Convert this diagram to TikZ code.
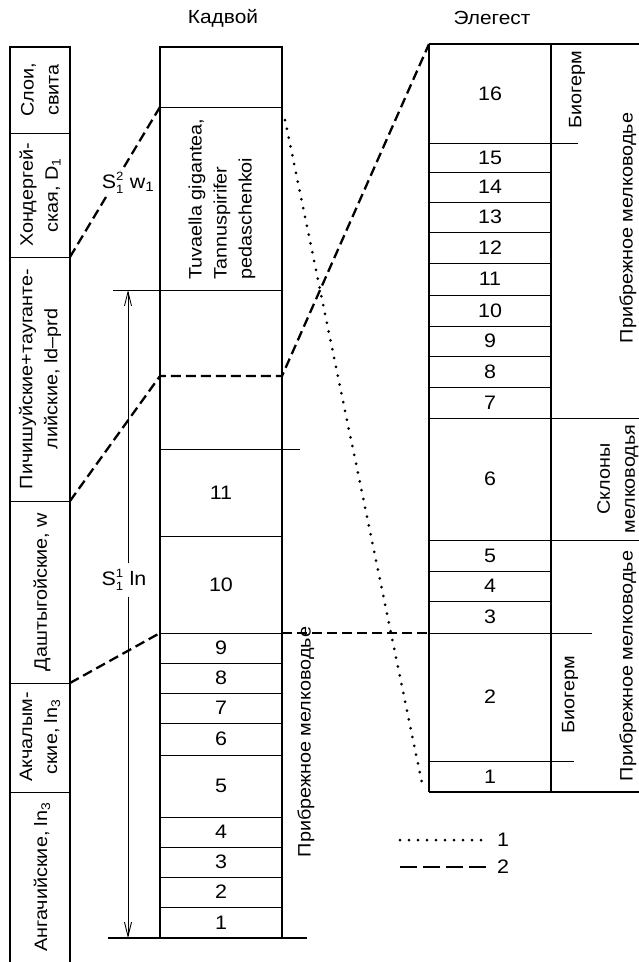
\documentclass[tikz,border=0pt]{standalone}
\usepackage{fontspec}
\setmainfont{Liberation Sans}[FakeStretch=1.1]
\usetikzlibrary{arrows.meta}

\newcommand{\Sidx}[2]{S$^{\mbox{\fontsize{12}{12}\selectfont#1}}_{\mbox{\fontsize{12}{12}\selectfont#2}}$}

\tikzset{
  frame/.style={line width=1.6pt},
  bed/.style={line width=1pt},
  corr/.style={line width=2.3pt, dash pattern=on 10pt off 5pt},
  dots/.style={line width=3pt, line cap=round, dash pattern=on 0pt off 9pt},
  num/.style={font=\fontsize{19.5}{21}\selectfont, inner sep=0pt},
  title/.style={font=\fontsize{19}{21}\selectfont, inner sep=0pt},
  vlabel/.style={font=\fontsize{18}{25}\selectfont, rotate=90, align=center, inner sep=0pt},
  barb/.style={-{Straight Barb[length=14pt,width=7pt]}, line width=0.9pt},
}

\begin{document}
\begin{tikzpicture}[x=1pt,y=-1pt]
\useasboundingbox (0,0) rectangle (639,962);

\node[title] (kadvoy) at (223,18) {Кадвой};
\node[title] (elegest) at (492,18) {Элегест};

% stratigraphic column
\draw[frame] (10,962) -- (10,47) -- (70,47) -- (70,962);
\foreach \y in {133,257,501,683,792}
  \draw[bed] (10,\y) -- (70,\y);
\node[vlabel] (sloi) at (40,90) {Слои,\\свита};
\node[vlabel] (khond) at (40,195) {Хондергей-\\ская, D\textsubscript{1}};
\node[vlabel] (pich) at (40,379) {Пичишуйские+тауганте-\\лийские, ld--prd};
\node[vlabel] (dasht) at (42,592) {Даштыгойские, w};
\node[vlabel] (akch) at (40,737) {Акчалым-\\ские, ln\textsubscript{3}};
\node[vlabel] (angach) at (42,877) {Ангачийские, ln\textsubscript{3}};

% Kadvoy section
\draw[frame] (160,47) rectangle (282,938);
\foreach \y in {107,536,633,663,693,723,755,817,847,877,907}
  \draw[bed] (160,\y) -- (282,\y);
\draw[bed] (113,290) -- (282,290);
\draw[bed] (160,449) -- (300,449);
\draw[frame] (108,938) -- (307,938);
\foreach \n/\y in {1/923,2/892,3/862,4/832,5/786,6/739,7/708,8/678,9/648,10/585,11/493}
  \node[num] (k\n) at (221,\y) {\n};
\node[vlabel, anchor=west, align=left] (fauna) at (222,280)
  {Tuvaella gigantea,\\Tannuspirifer\\pedaschenkoi};
\node[vlabel] (kshore) at (306,742) {Прибрежное мелководье};

\coordinate (atop) at (128,290);
\coordinate (abot) at (128,938);
\node[num, inner sep=6pt] (sln) at (124,580) {\Sidx{1}{1} ln};
\draw[barb] (sln.north -| atop) -- (atop);
\draw[barb] (sln.south -| abot) -- (abot);

% Elegest section
\draw[frame] (429,44) -- (429,792);
\draw[frame] (551,44) -- (551,792);
\draw[frame] (429,44) -- (639,44);
\draw[frame] (429,792) -- (639,792);
\foreach \y in {172,202,232,263,295,326,356,387,571,601}
  \draw[bed] (429,\y) -- (551,\y);
\draw[bed] (429,143) -- (578,143);
\draw[bed] (429,418) -- (639,418);
\draw[bed] (429,540) -- (639,540);
\draw[bed] (429,633) -- (592,633);
\draw[bed] (429,761) -- (574,761);
\foreach \n/\a/\b in {16/44/143,15/143/172,14/172/202,13/202/232,12/232/263,
    11/263/295,10/295/326,9/326/356,8/356/387,7/387/418,6/418/540,
    5/540/571,4/571/601,3/601/633,2/633/761,1/761/792}
  \node[num] (e\n) at (490,{(\a+\b)/2}) {\n};
\node[vlabel] (bio1) at (577,90) {Биогерм};
\node[vlabel] (shore1) at (628,228) {Прибрежное мелководье};
\node[vlabel] (slope) at (618,479) {Склоны\\мелководья};
\node[vlabel] (bio2) at (570,695) {Биогерм};
\node[vlabel] (shore2) at (628,666) {Прибрежное мелководье};

% correlation lines
\coordinate (L257) at (70,257);
\coordinate (K107) at (160,107);
\coordinate (L501) at (70,501);
\coordinate (K376w) at (160,376);
\coordinate (K376e) at (282,376);
\coordinate (E44) at (429,44);
\coordinate (L683) at (70,683);
\coordinate (K633w) at (160,633);
\coordinate (K633e) at (282,633);
\coordinate (E633) at (429,633);
\draw[corr] (L257) -- (K107);
\draw[corr] (L501) -- (K376w) -- (K376e) -- (E44);
\draw[corr] (L683) -- (K633w);
\draw[corr] (K633e) -- (E633);
\coordinate (dtop) at (285,120);
\coordinate (dbot) at (423,788);
\draw[dots] (dtop) -- (dbot);
\node[num, fill=white, inner sep=1pt] (sw) at (128,183) {\Sidx{2}{1} w\textsubscript{1}};

% legend
\coordinate (l1a) at (400,840);
\coordinate (l1b) at (487,840);
\coordinate (l2a) at (400,867);
\coordinate (l2b) at (487,867);
\draw[dots] (l1a) -- (l1b);
\draw[corr, dash pattern=on 17pt off 6pt] (l2a) -- (l2b);
\node[num, anchor=west] (leg1) at ([xshift=10pt]l1b) {1};
\node[num, anchor=west] (leg2) at ([xshift=10pt]l2b) {2};
\end{tikzpicture}
\end{document}
